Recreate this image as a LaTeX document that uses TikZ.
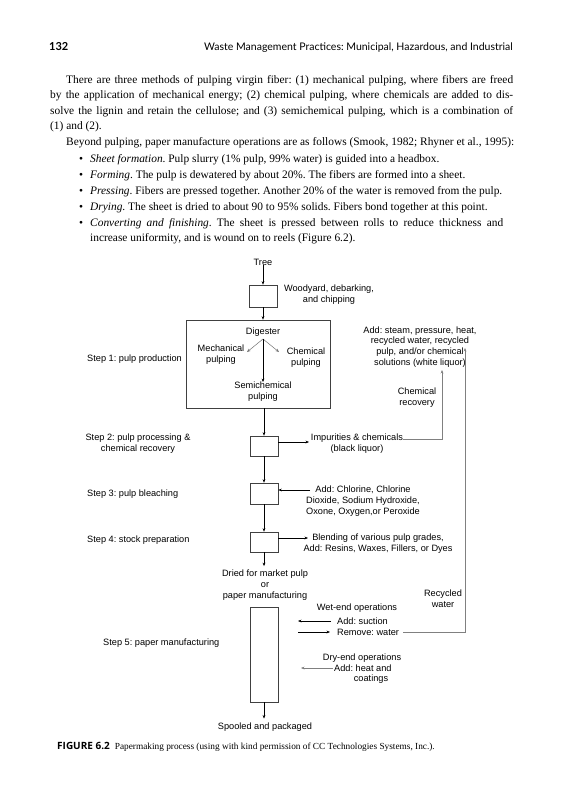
\documentclass[tikz,border=0pt]{standalone}
\usepackage{fontspec}
\setmainfont{Liberation Serif}
\newfontfamily\hsans{Liberation Sans}
\newfontfamily\optima{Lato}
\newfontfamily\capsans{Open Sans}
\usetikzlibrary{arrows.meta}
\begin{document}
\frenchspacing
\begin{tikzpicture}[x=1pt,y=-1pt,
  body/.style={anchor=base west,inner sep=0pt,font=\fontsize{11.4}{13}\selectfont},
  hdr/.style={anchor=base west,inner sep=0pt,font=\optima\fontsize{10.5}{13}\selectfont},
  dtext/.style={font=\hsans\fontsize{9.2}{10.9}\selectfont,inner sep=0pt,align=center},
  proc/.style={draw=black!75,line width=0.6pt,inner sep=0pt},
  arr/.style={-{Stealth[length=3.5pt,width=2.8pt]},line width=0.5pt},
  garr/.style={arr,draw=black!50},
]
\useasboundingbox[fill=white] (0,0) rectangle (560,800);

% header
\node[hdr,font=\optima\bfseries\fontsize{11}{13}\selectfont] (pg) at (49,51) {132};
\node[hdr,anchor=base east] (rh) at (513,51) {Waste Management Practices: Municipal, Hazardous, and Industrial};

% paragraphs
\node[body] (l1) at (66,83) {\makebox[447pt][s]{There are three methods of pulping virgin fiber: (1) mechanical pulping, where fibers are freed}};
\node[body] (l2) at (50,98.5) {\makebox[463pt][s]{by the application of mechanical energy; (2) chemical pulping, where chemicals are added to dis-}};
\node[body] (l3) at (50,114) {\makebox[463pt][s]{solve the lignin and retain the cellulose; and (3) semichemical pulping, which is a combination of}};
\node[body] (l4) at (50,129.5) {(1) and (2).};
\node[body] (l5) at (66,145) {Beyond pulping, paper manufacture operations are as follows (Smook, 1982; Rhyner et al., 1995):};

% bullets
\foreach \yy/\txt [count=\i] in {
 162/{\textit{Sheet formation}. Pulp slurry (1\% pulp, 99\% water) is guided into a headbox.},
 178/{\textit{Forming}. The pulp is dewatered by about 20\%. The fibers are formed into a sheet.},
 194/{\textit{Pressing}. Fibers are pressed together. Another 20\% of the water is removed from the pulp.},
 210/{\textit{Drying}. The sheet is dried to about 90 to 95\% solids. Fibers bond together at this point.}}
{
 \node[body] (bu\i) at (79,\yy) {\textbullet};
 \node[body] (bt\i) at (90,\yy) {\txt};
}
\node[body] (bu5) at (79,226) {\textbullet};
\node[body] (bt5) at (90,226) {\makebox[413pt][s]{\textit{Converting and finishing}. The sheet is pressed between rolls to reduce thickness and}};
\node[body] (bt6) at (90,241) {increase uniformity, and is wound on to reels (Figure 6.2).};

% diagram
\node[dtext] (tree) at (263,262) {Tree};
\node[proc,minimum width=28pt,minimum height=22pt] (b1) at (263,296) {};
\node[dtext] (wood) at (329,295) {Woodyard, debarking,\\and chipping};
\node[proc,minimum width=144pt,minimum height=88pt] (digbox) at (258,364) {};
\node[dtext] (dig) at (263,332) {Digester};
\node[dtext] (mech) at (221,355) {Mechanical\\pulping};
\node[dtext] (chem) at (306,358) {Chemical\\pulping};
\node[dtext] (semi) at (263,392) {Semichemical\\pulping};
\coordinate (dsplit) at (263,339);
\coordinate (mtip) at (247,352);
\coordinate (ctip) at (279,352);
\node[dtext,anchor=west] (s1) at (87,359) {Step 1: pulp production};
\node[dtext] (steam) at (420,347) {Add: steam, pressure, heat,\\recycled water, recycled\\pulp, and/or chemical\\solutions (white liquor)};
\node[dtext] (crec) at (417,398) {Chemical\\recovery};

\node[proc,minimum width=28pt,minimum height=20pt] (b2) at (264,446) {};
\node[dtext] (s2) at (138,444) {Step 2: pulp processing \&\\chemical recovery};
\node[dtext] (impA) at (357,438) {Impurities \& chemicals};
\node[dtext] (impB) at (357,449) {(black liquor)};
\coordinate (imptip) at (309,442);
\coordinate (crtip) at (442,370);

\node[proc,minimum width=28pt,minimum height=21pt] (b3) at (264,493.5) {};
\node[dtext,anchor=west] (s3) at (87,494) {Step 3: pulp bleaching};
\node[dtext] (chl) at (363,501) {Add: Chlorine, Chlorine\\Dioxide, Sodium Hydroxide,\\Oxone, Oxygen,or Peroxide};
\coordinate (chltail) at (310,490);

\node[proc,minimum width=28pt,minimum height=20pt] (b4) at (264,542) {};
\node[dtext,anchor=west] (s4) at (87,540) {Step 4: stock preparation};
\node[dtext] (blend) at (378,543.5) {Blending of various pulp grades,\\Add: Resins, Waxes, Fillers, or Dyes};
\coordinate (blendtip) at (308,538);

\node[dtext] (dried) at (265,585.5) {Dried for market pulp\\or\\paper manufacturing};
\node[proc,minimum width=28pt,minimum height=95pt] (b5) at (264,654.5) {};
\node[dtext] (spool) at (265,727) {Spooled and packaged};
\node[dtext,anchor=west] (s5) at (103,643) {Step 5: paper manufacturing};
\node[dtext] (wet) at (357,608) {Wet-end operations};
\node[dtext,anchor=west] (suc) at (337,621) {Add: suction};
\node[dtext,anchor=west] (rem) at (337,632) {Remove: water};
\coordinate (suctip) at (298,621);
\coordinate (remtail) at (298,632);
\node[dtext] (rw) at (443,598.5) {Recycled\\water};
\coordinate (rwtip) at (465,348);
\node[dtext] (dry) at (362,658) {Dry-end operations};
\node[dtext,anchor=west] (heat) at (334,668) {Add: heat and};
\node[dtext] (coat) at (371,679) {coatings};
\coordinate (drytip) at (301,668);

% connectors
\draw[arr] (tree) -- (b1);
\draw[arr] (b1.south) -- (b1.south |- digbox.north);
\draw[arr,draw=black!55] (dsplit) -- (mtip);
\draw[arr,draw=black!55] (dsplit) -- (ctip);
\draw[arr] (dsplit) -- (semi.north);
\draw[arr] (b2.north |- digbox.south) -- (b2.north);
\draw[arr] (b2.east |- imptip) -- (imptip);
\draw[garr] ([yshift=1pt]impA.base east) -| (crtip);
\draw[arr] (b2) -- (b3);
\draw[arr] (chltail) -- (chltail -| b3.east);
\draw[arr] (b3) -- (b4);
\draw[arr] (blendtip -| b4.east) -- (blendtip);
\draw[arr] (b4.south) -- ([yshift=4pt]b4.south |- dried.north);
\draw[arr] ([xshift=-6pt]suc.west) -- (suctip);
\draw[arr] (remtail) -- ([xshift=-7pt]rem.west);
\draw[garr] ([xshift=4pt]rem.east) -| (rwtip);
\draw[garr] ([xshift=-1pt]heat.west) -- (drytip);
\draw[arr] (b5.south) -- ([yshift=4pt]b5.south |- spool.north);

% caption
\node[anchor=base west,inner sep=0pt] (cap) at (57,749) {{\capsans\bfseries\fontsize{10}{12}\selectfont FIGURE 6.2}\hspace{5pt}{\fontsize{9.3}{12}\selectfont Papermaking process (using with kind permission of CC Technologies Systems, Inc.).}};
\end{tikzpicture}
\end{document}
